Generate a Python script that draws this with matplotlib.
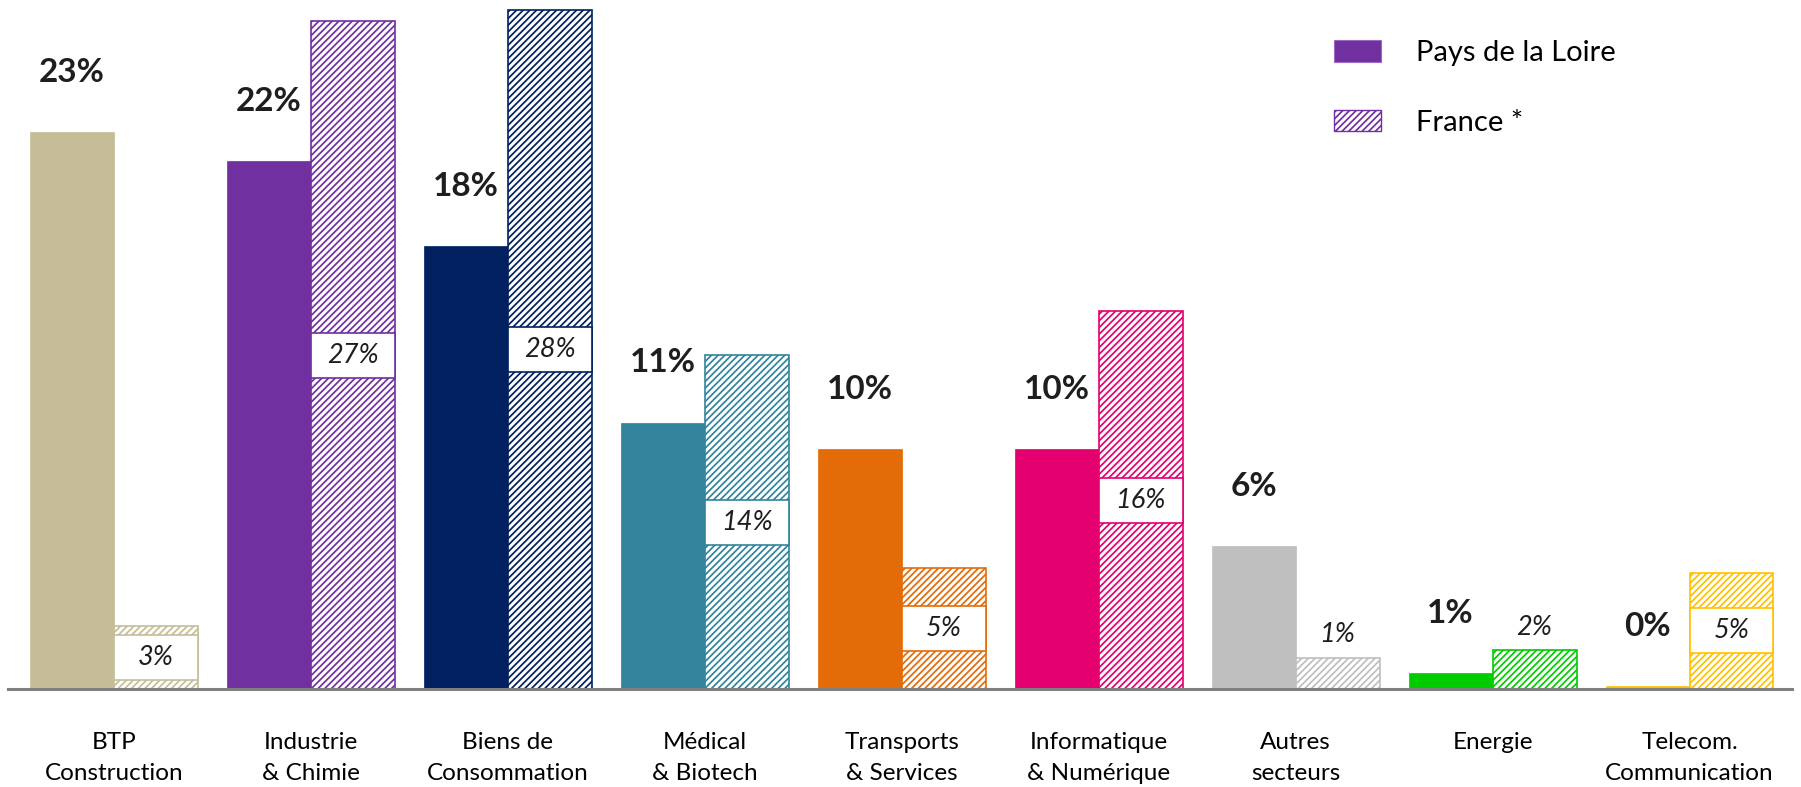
import numpy as np
import matplotlib.pyplot as plt
from matplotlib.patches import Patch

# Data
categories = ["BTP\nConstruction", "Industrie\n& Chimie", "Biens de\nConsommation",
              "Médical\n& Biotech", "Transports\n& Services", "Informatique\n& Numérique",
              "Autres\nsecteurs", "Energie", "Telecom.\nCommunication"]
pdl_values = [23.0, 21.8, 18.3, 11.0, 9.9, 9.9, 5.9, 0.65, 0.12]
france_values = [2.6, 27.6, 28.05, 13.8, 5.0, 15.6, 1.3, 1.6, 4.8]
pdl_labels = ["23%", "22%", "18%", "11%", "10%", "10%", "6%", "1%", "0%"]
france_labels = ["3%", "27%", "28%", "14%", "5%", "16%", "1%", "2%", "5%"]
colors = ["#C4BD97", "#7030A0", "#002060", "#31849B", "#E36C09",
          "#E4006E", "#BFBFBF", "#00CC00", "#FFC000"]
legend_labels = ["Pays de la Loire", "France *"]

plt.rcParams['font.family'] = ['Lato', 'DejaVu Sans']
plt.rcParams['hatch.linewidth'] = 1.25
text_color = "#1E1E1E"

fig = plt.figure(figsize=(18.01, 7.87), dpi=100)
ax = fig.add_axes([8 / 1801, 98 / 787, 1784 / 1801, 689 / 787])

x = np.arange(len(categories))
w = 0.426
px = 1 / 24.2  # one pixel in data units (vertical)

for i in range(len(categories)):
    c = colors[i]
    ax.bar(x[i] - w / 2, pdl_values[i], width=w, color=c, edgecolor=c, linewidth=0.5)
    ax.bar(x[i] + w / 2, france_values[i], width=w, facecolor="white",
           edgecolor=c, hatch="/////", linewidth=1.2)

    # bold label above solid bar
    ax.text(x[i] - w / 2, pdl_values[i] + 60 * px, pdl_labels[i], ha="center",
            va="center", fontsize=24, fontweight="bold", color=text_color)

    # italic label on the France bar
    fv = france_values[i]
    if fv < 2:
        ax.text(x[i] + w / 2, fv + 23 * px, france_labels[i], ha="center",
                va="center", fontsize=19.5, fontstyle="italic", color=text_color)
    else:
        box_h = 45 * px
        ax.bar(x[i] + w / 2, box_h, bottom=fv / 2 - box_h / 2, width=w,
               facecolor="white", edgecolor=c, linewidth=1.2)
        ax.text(x[i] + w / 2, fv / 2, france_labels[i], ha="center",
                va="center", fontsize=19.5, fontstyle="italic", color=text_color)

ax.set_xlim(-0.537, 8.52)
ax.set_ylim(0, 689 * px)
ax.set_xticks(x)
ax.set_xticklabels(categories, fontsize=17.5, color="black", linespacing=1.6)
ax.tick_params(axis="x", length=0, pad=31)
ax.set_yticks([])
for s in ["top", "left", "right"]:
    ax.spines[s].set_visible(False)
ax.spines["bottom"].set_color("#808080")
ax.spines["bottom"].set_linewidth(2.2)

handles = [Patch(facecolor="#7030A0", edgecolor="#9A6BC0", linewidth=0.8),
           Patch(facecolor="white", edgecolor="#7030A0", hatch="/////", linewidth=1.0)]
fig.legend(handles, legend_labels, loc="upper left",
           bbox_to_anchor=(1334 / 1801, 1 - 40 / 787), frameon=False,
           fontsize=21, handlelength=1.6, handleheight=0.75, handletextpad=1.2,
           labelspacing=1.5, borderpad=0, borderaxespad=0)

plt.savefig("out.png", dpi=100)
